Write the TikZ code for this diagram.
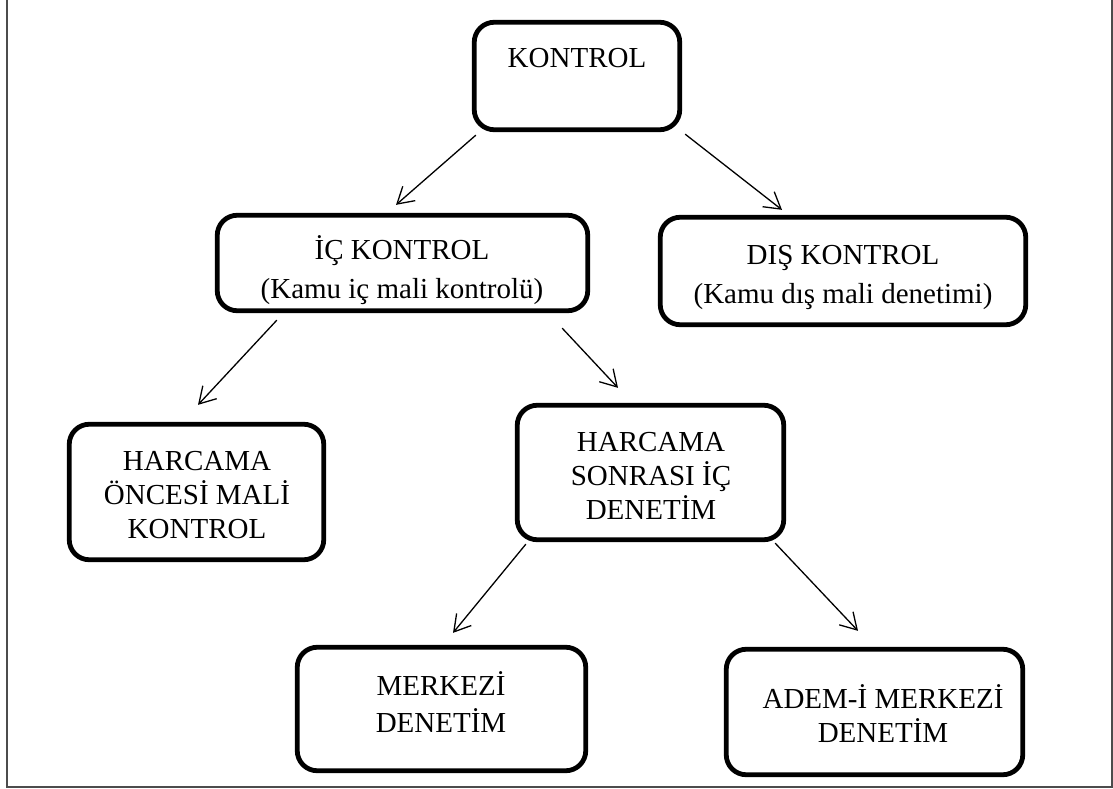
\documentclass[tikz,border=0pt]{standalone}
\usepackage{fontspec}
\setmainfont{Liberation Serif}
\usetikzlibrary{arrows.meta}

\tikzset{
    kutu/.style={draw=black, line width=4.8pt, rounded corners=20pt, fill=white},
    yazi/.style={align=center, inner sep=0pt, font=\fontsize{29}{34}\selectfont},
    ok/.style={-{Straight Barb[length=16pt, width=19pt, line width=1.3pt]}, line width=1.3pt},
    cerceve/.style={draw=black!70, line width=2pt}
}

\begin{document}
\begin{tikzpicture}[x=1pt, y=-1pt]
    \useasboundingbox (0,0) rectangle (1113,789);
    \draw[cerceve] (7,0) -- (7,787) -- (1112,787) -- (1112,0);

    \node[kutu, minimum width=205.5pt, minimum height=107.5pt] (kontrol) at (577, 76) {};
    \node[kutu, minimum width=370.5pt, minimum height=95.5pt] (ic) at (402.5, 263) {};
    \node[kutu, minimum width=365.5pt, minimum height=107.5pt] (dis) at (843, 271) {};
    \node[kutu, minimum width=254.5pt, minimum height=135.5pt] (oncesi) at (196.5, 492) {};
    \node[kutu, minimum width=266.5pt, minimum height=134.5pt] (sonrasi) at (650.5, 472.5) {};
    \node[kutu, minimum width=288.5pt, minimum height=123.5pt] (merkezi) at (441.5, 709) {};
    \node[kutu, minimum width=296.5pt, minimum height=125.5pt] (adem) at (874.5, 712) {};

    \node[yazi] (kontrol-y) at (577, 58) {KONTROL};
    \node[yazi] (ic-y) at (402, 270) {İÇ KONTROL\\[5pt](Kamu iç mali kontrolü)};
    \node[yazi] (dis-y) at (843, 277) {DIŞ KONTROL\\[5pt](Kamu dış mali denetimi)};
    \node[yazi] (oncesi-y) at (197, 495) {HARCAMA\\ÖNCESİ MALİ\\KONTROL};
    \node[yazi] (sonrasi-y) at (651, 476) {HARCAMA\\SONRASI İÇ\\DENETİM};
    \node[yazi] (merkezi-y) at (441, 702) {MERKEZİ\\[3pt]DENETİM};
    \node[yazi] (adem-y) at (883, 714) {ADEM-İ MERKEZİ\\DENETİM};

    \draw[ok] ([xshift=4pt, yshift=-3pt]kontrol.south west) -- ([xshift=-6.5pt, yshift=8pt]ic.north);
    \draw[ok] ([xshift=3pt, yshift=-2pt]kontrol.south east) -- ([xshift=-61pt, yshift=5pt]dis.north);
    \draw[ok] ([xshift=62pt, yshift=-7pt]ic.south west) -- ([xshift=1.5pt, yshift=17pt]oncesi.north);
    \draw[ok] ([xshift=-28pt, yshift=-15pt]ic.south east) -- ([xshift=-32.5pt, yshift=15pt]sonrasi.north);
    \draw[ok] ([xshift=11pt, yshift=-2pt]sonrasi.south west) -- ([xshift=11.5pt, yshift=12pt]merkezi.north);
    \draw[ok] ([xshift=-11pt, yshift=-1pt]sonrasi.south east) -- ([xshift=-16.5pt, yshift=16pt]adem.north);

\end{tikzpicture}
\end{document}
